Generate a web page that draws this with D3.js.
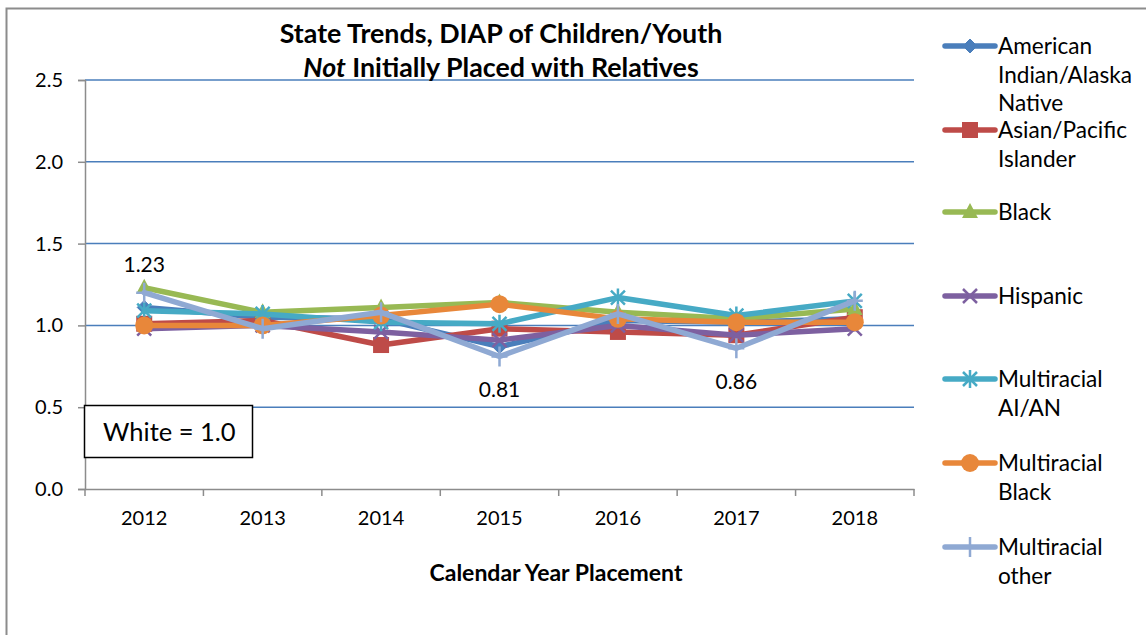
<!DOCTYPE html>
<html><head><meta charset="utf-8">
<script src="https://cdn.jsdelivr.net/npm/d3@7"></script>
<style>body{margin:0;background:#fff;} svg{display:block;font-family:Lato,"Open Sans",sans-serif;}</style>
</head><body><svg id="c" width="1146" height="635"></svg>
<script>
const years = ["2012","2013","2014","2015","2016","2017","2018"];
const yTicks = [0, 0.5, 1.0, 1.5, 2.0, 2.5];
const seriesNames = ["American Indian/Alaska Native","Asian/Pacific Islander","Black","Hispanic","Multiracial AI/AN","Multiracial Black","Multiracial other"];
const legendLines = [["American","Indian/Alaska","Native"],["Asian/Pacific","Islander"],["Black"],["Hispanic"],["Multiracial","AI/AN"],["Multiracial","Black"],["Multiracial","other"]];
const aian   = [1.11, 1.05, 1.04, 0.87, 1.03, 1.02, 1.04];
const asian  = [1.01, 1.03, 0.88, 0.98, 0.96, 0.94, 1.05];
const black  = [1.23, 1.08, 1.11, 1.14, 1.08, 1.04, 1.10];
const hisp   = [0.98, 1.00, 0.96, 0.91, 1.00, 0.94, 0.98];
const mAian  = [1.09, 1.07, 1.02, 1.01, 1.17, 1.06, 1.15];
const mBlack = [1.00, 1.00, 1.06, 1.13, 1.04, 1.02, 1.02];
const mOther = [1.20, 0.98, 1.08, 0.81, 1.07, 0.86, 1.15];
const allSeries = [aian, asian, black, hisp, mAian, mBlack, mOther];
const colors = ["#4A7EBB","#BE4B48","#98B954","#7D60A0","#46AAC5","#E8873A","#8FA9D3"];
const markers = ["diamond","square","triangle","x","star","circle","plus"];
const dataLabels = [{s:2,i:0,pos:"above"},{s:6,i:3,pos:"below"},{s:6,i:5,pos:"below"}];

const svg = d3.select("#c");
svg.append("rect").attr("x",6.5).attr("y",8.5).attr("width",1150).attr("height",640)
  .attr("fill","#fff").attr("stroke","#8c8c8c").attr("stroke-width",2);

const x = d3.scaleBand().domain(years).range([85,914]);
const y = d3.scaleLinear().domain([0,2.5]).range([489,80]);

// gridlines
svg.append("g").selectAll("line").data(yTicks.filter(d=>d>0)).join("line")
  .attr("x1",85).attr("x2",914).attr("y1",d=>y(d)).attr("y2",d=>y(d))
  .attr("stroke","#4A7EBB").attr("stroke-width",1.5);

// y axis
const yAxis = svg.append("g").attr("transform","translate(85,0)")
  .call(d3.axisLeft(y).tickValues(yTicks).tickFormat(d3.format(".1f")).tickSize(7).tickPadding(15));
yAxis.select(".domain").attr("stroke","#8c8c8c").attr("stroke-width",1.5);
yAxis.selectAll(".tick line").attr("stroke","#8c8c8c").attr("stroke-width",1.5);
yAxis.selectAll("text").attr("font-size",20).attr("fill","#000").attr("font-family","Lato,sans-serif");

// x axis
const xAxis = svg.append("g").attr("transform","translate(0,489)")
  .call(d3.axisBottom(x).tickSize(0).tickPadding(22));
xAxis.select(".domain").attr("stroke","#8c8c8c").attr("stroke-width",1.5);
xAxis.selectAll("text").attr("font-size",20).attr("fill","#000").attr("font-family","Lato,sans-serif");
const bounds = years.map(d=>x(d)).concat([x.range()[1]]);
xAxis.selectAll(".bt").data(bounds).join("line").attr("class","bt")
  .attr("x1",d=>d).attr("x2",d=>d).attr("y1",0).attr("y2",7)
  .attr("stroke","#8c8c8c").attr("stroke-width",1.5);

// titles
const title = svg.append("text").attr("x",501).attr("text-anchor","middle")
  .attr("font-size",26.8).attr("font-weight","bold").attr("fill","#000");
title.append("tspan").attr("x",501).attr("y",43).text("State Trends, DIAP of Children/Youth");
const t2 = title.append("tspan").attr("x",501).attr("y",77);
t2.append("tspan").attr("font-style","italic").text("Not");
t2.append("tspan").text(" Initially Placed with Relatives");
svg.append("text").attr("x",556).attr("y",581).attr("text-anchor","middle")
  .attr("font-size",23).attr("font-weight","bold").text("Calendar Year Placement");

function drawMarker(g, type, color, cx, cy, scale){
  scale = scale || 1;
  const s = scale;
  if(type==="diamond"){
    g.append("path").attr("d",`M${cx},${cy-7*s}L${cx+7*s},${cy}L${cx},${cy+7*s}L${cx-7*s},${cy}Z`).attr("fill",color).attr("stroke",color);
  } else if(type==="square"){
    g.append("rect").attr("x",cx-8*s).attr("y",cy-8*s).attr("width",16*s).attr("height",16*s).attr("fill",color);
  } else if(type==="triangle"){
    g.append("path").attr("d",`M${cx},${cy-9*s}L${cx+8*s},${cy+6*s}L${cx-8*s},${cy+6*s}Z`).attr("fill",color);
  } else if(type==="x"){
    g.append("path").attr("d",`M${cx-7*s},${cy-7*s}L${cx+7*s},${cy+7*s}M${cx+7*s},${cy-7*s}L${cx-7*s},${cy+7*s}`).attr("stroke",color).attr("stroke-width",2.5);
  } else if(type==="star"){
    g.append("path").attr("d",`M${cx-7*s},${cy-7*s}L${cx+7*s},${cy+7*s}M${cx+7*s},${cy-7*s}L${cx-7*s},${cy+7*s}M${cx},${cy-9*s}L${cx},${cy+9*s}`).attr("stroke",color).attr("stroke-width",2.5);
  } else if(type==="circle"){
    g.append("circle").attr("cx",cx).attr("cy",cy).attr("r",9*s).attr("fill",color);
  } else if(type==="plus"){
    g.append("path").attr("d",`M${cx},${cy-10*s}L${cx},${cy+10*s}M${cx-8*s},${cy}L${cx+8*s},${cy}`).attr("stroke",color).attr("stroke-width",2.5);
  }
}

const line = d3.line().x((d,i)=>x(years[i])+x.bandwidth()/2).y(d=>y(d));
allSeries.forEach((vals,si)=>{
  const g = svg.append("g");
  g.append("path").datum(vals).attr("d",line).attr("fill","none")
    .attr("stroke",colors[si]).attr("stroke-width",5.5).attr("stroke-linejoin","round").attr("stroke-linecap","round");
  vals.forEach((v,i)=>drawMarker(g, markers[si], colors[si], x(years[i])+x.bandwidth()/2, y(v)));
});

// data labels
dataLabels.forEach(l=>{
  const v = allSeries[l.s][l.i];
  svg.append("text").attr("x",x(years[l.i])+x.bandwidth()/2)
    .attr("y", l.pos==="above" ? y(v)-16 : y(v)+41)
    .attr("text-anchor","middle").attr("font-size",21).text(d3.format(".2f")(v));
});

// White box
svg.append("rect").attr("x",84.5).attr("y",405.5).attr("width",168).attr("height",52)
  .attr("fill","#fff").attr("stroke","#000").attr("stroke-width",1.5);
svg.append("text").attr("x",103).attr("y",441).attr("font-size",25.5).text("White = 1.0");

// legend
const legTop = [46,130,212,296,379,463,547];
legendLines.forEach((lines,si)=>{
  const g = svg.append("g");
  const ly = legTop[si];
  g.append("line").attr("x1",945).attr("x2",995).attr("y1",ly).attr("y2",ly)
    .attr("stroke",colors[si]).attr("stroke-width",5.5).attr("stroke-linecap","round");
  drawMarker(g, markers[si], colors[si], 970, ly, 1);
  lines.forEach((t,k)=>{
    g.append("text").attr("x",998).attr("y",ly+8+k*28.5).attr("font-size",22.6).attr("fill","#000").text(t);
  });
});
</script></body></html>
